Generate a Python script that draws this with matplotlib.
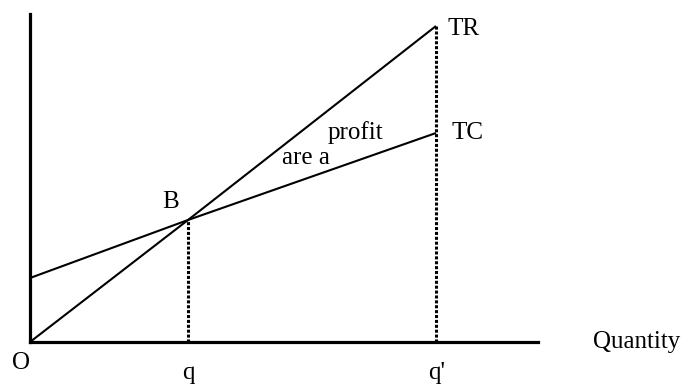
import numpy as np
import matplotlib.pyplot as plt

plt.rcParams['font.family'] = ['Liberation Serif', 'DejaVu Serif']

# quantities (arbitrary units)
q = 158
q2 = 406
fixed_cost = 64
Q = np.array([0, q, q2])
TR = np.array([0, 122, 316])
TC = np.array([fixed_cost, 122, 209])

fig = plt.figure(figsize=(6.84, 3.85), dpi=100)
ax = fig.add_axes([30/684, 43/385, 508/684, 328/385])
ax.set_xlim(0, 508)
ax.set_ylim(0, 328)

ax.plot(Q, TR, color='black', lw=1.5, solid_capstyle='butt')
ax.plot(Q, TC, color='black', lw=1.5, solid_capstyle='butt')

# dotted drop lines
ax.plot([q, q], [0, TR[1]], color='black', lw=2.2, ls=(0, (1, 0.6)))
ax.plot([q2, q2], [0, TR[2]], color='black', lw=2.2, ls=(0, (1, 0.6)))

for s in ['top', 'right']:
    ax.spines[s].set_visible(False)
ax.spines['left'].set_linewidth(2.3)
ax.spines['bottom'].set_linewidth(2.3)
ax.set_xticks([])
ax.set_yticks([])

fs = 18
ax.text(q2 + 11, TR[2] - 3, 'TR', fontsize=fs, va='center', ha='left')
ax.text(q2 + 16, TC[2], 'TC', fontsize=fs, va='center', ha='left')
ax.text(q - 17, TR[1] + 18, 'B', fontsize=fs, va='center', ha='center')
ax.text(298, 209, 'profit', fontsize=fs, va='center', ha='left')
ax.text(252, 184, 'are a', fontsize=fs, va='center', ha='left')
ax.text(-9, -21, 'O', fontsize=fs, va='center', ha='center')
ax.text(q, -31, 'q', fontsize=fs, va='center', ha='center')
ax.text(q2 + 1, -31, "q'", fontsize=fs, va='center', ha='center')
ax.text(563, 0, 'Quantity', fontsize=fs, va='center', ha='left')

fig.savefig('out.png', dpi=100)
